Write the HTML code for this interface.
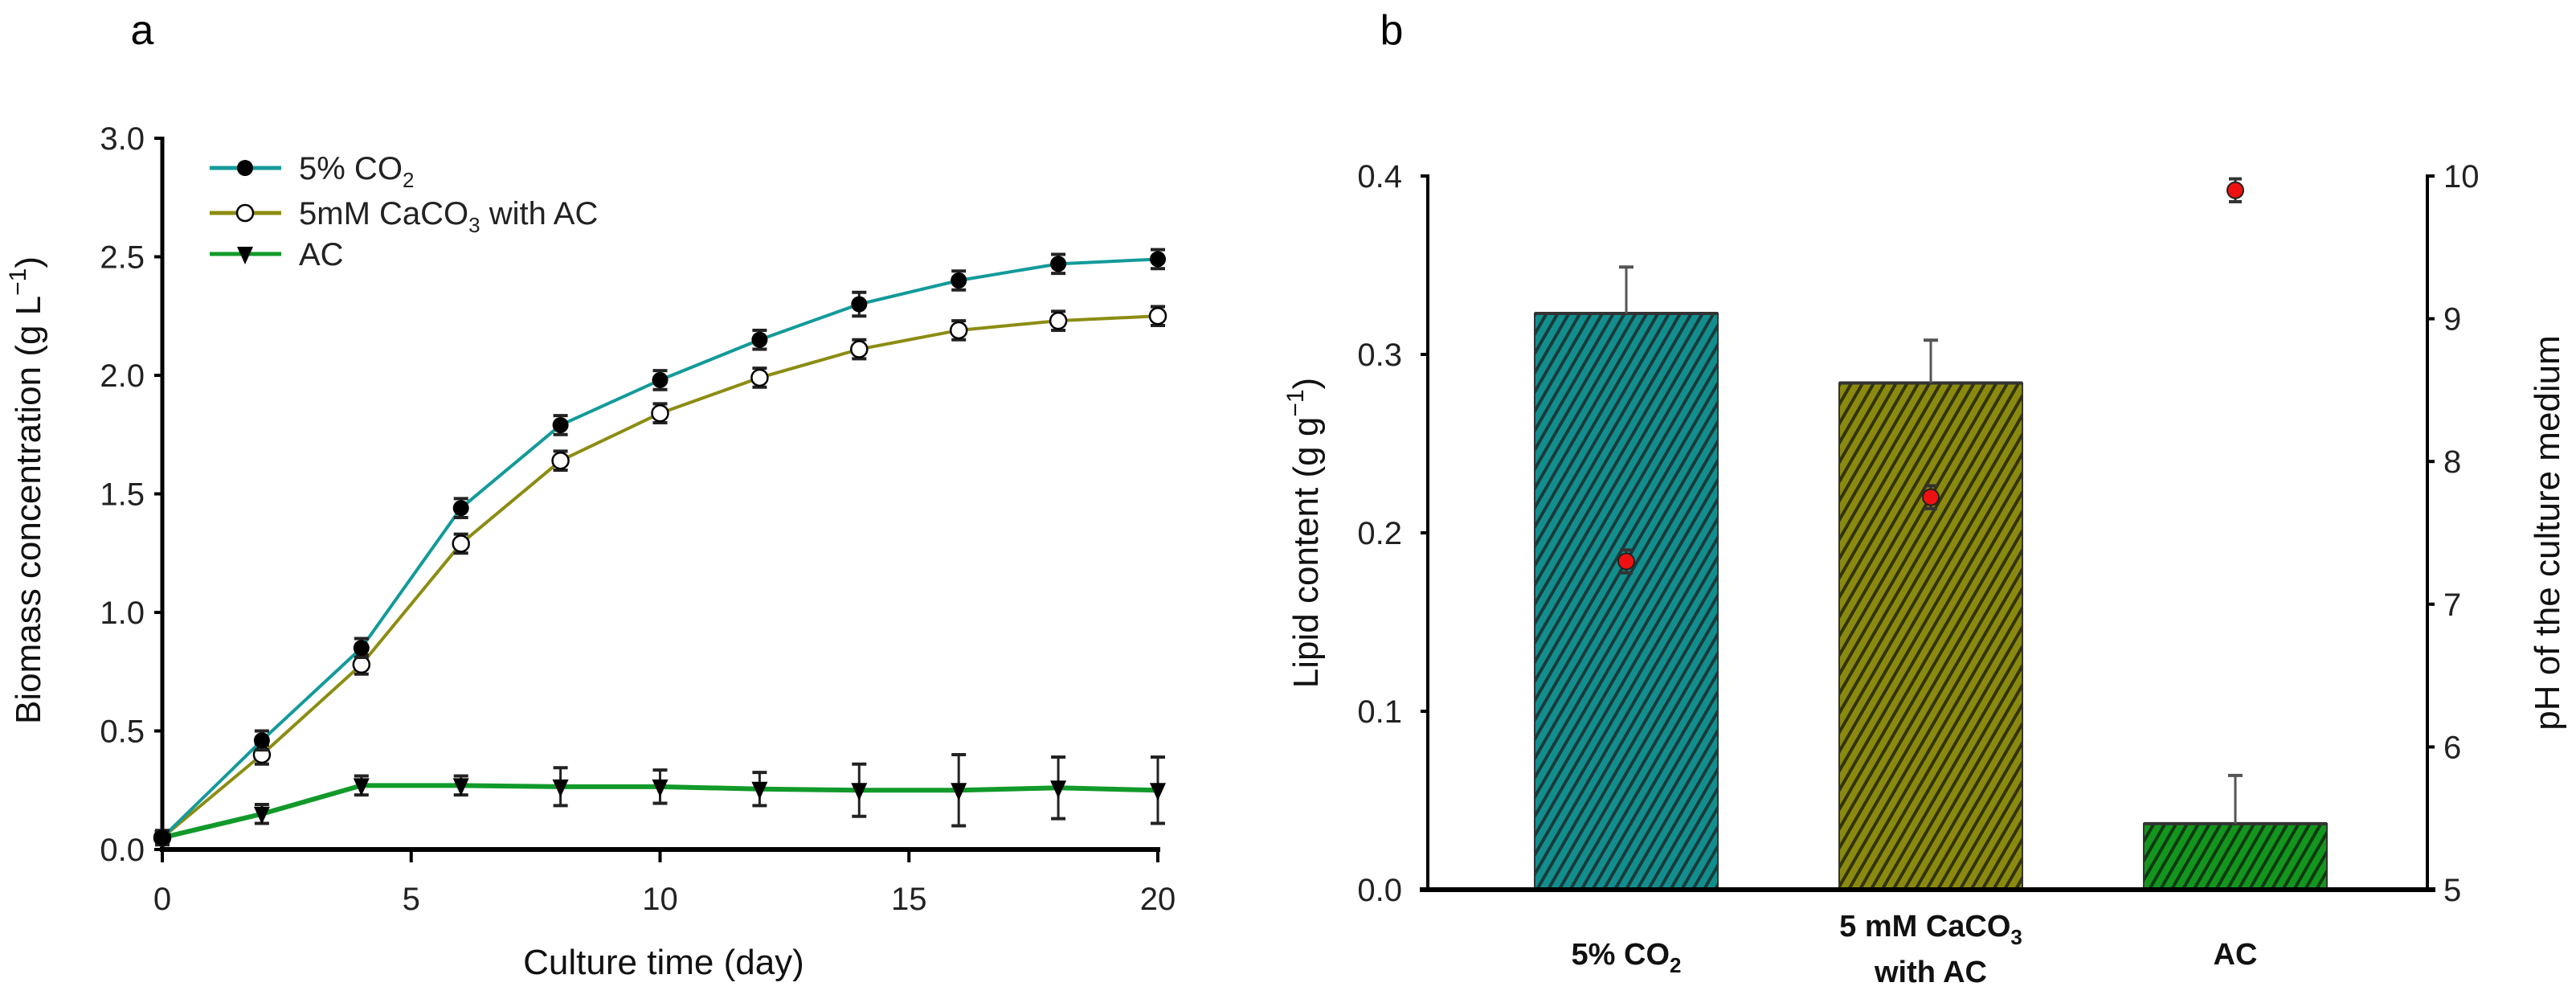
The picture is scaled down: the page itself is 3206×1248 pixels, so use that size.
<!DOCTYPE html>
<html><head><meta charset="utf-8">
<style>
html,body{margin:0;padding:0;background:#fff;}
svg{display:block;font-family:"Liberation Sans",Arial,sans-serif;}
</style></head>
<body>
<svg id="chart" width="3206" height="1248" viewBox="0 0 3206 1248">
<defs>
<pattern id="hatchTeal" patternUnits="userSpaceOnUse" width="12" height="12" patternTransform="rotate(30)">
<rect width="12" height="12" fill="#138e8e"/><rect width="4" height="12" fill="#1a3a3a"/></pattern>
<pattern id="hatchOlive" patternUnits="userSpaceOnUse" width="12" height="12" patternTransform="rotate(30)">
<rect width="12" height="12" fill="#8a8a10"/><rect width="4" height="12" fill="#33330a"/></pattern>
<pattern id="hatchGreen" patternUnits="userSpaceOnUse" width="12" height="12" patternTransform="rotate(30)">
<rect width="12" height="12" fill="#14961e"/><rect width="4" height="12" fill="#0c3a10"/></pattern>
</defs>
<g id="pa"></g>
<g id="pb"></g>
</svg>
<script>
// Panel a data
const days = [0,2,4,6,8,10,12,14,16,18,20];
const co2Vals = [0.05,0.46,0.85,1.44,1.79,1.98,2.15,2.30,2.40,2.47,2.49];
const co2Err = [0.03,0.04,0.04,0.04,0.04,0.04,0.04,0.05,0.04,0.04,0.04];
const caVals = [0.05,0.40,0.78,1.29,1.64,1.84,1.99,2.11,2.19,2.23,2.25];
const caErr = [0.03,0.04,0.04,0.04,0.04,0.04,0.04,0.04,0.04,0.04,0.04];
const acVals = [0.05,0.15,0.27,0.27,0.265,0.265,0.255,0.25,0.25,0.26,0.25];
const acErr = [0.02,0.04,0.04,0.04,0.08,0.07,0.07,0.11,0.15,0.13,0.14];
const xTicksA = [0,5,10,15,20];
const yTicksA = ["0.0","0.5","1.0","1.5","2.0","2.5","3.0"];
// Panel b data
const categories = ["5% CO2","5 mM CaCO3 with AC","AC"];
const lipidVals = [0.323,0.284,0.037];
const lipidErr = [0.026,0.024,0.027];
const phVals = [7.3,7.75,9.9];
const phErr = [0.08,0.08,0.08];
const yTicksB = ["0.0","0.1","0.2","0.3","0.4"];
const yTicksPH = [5,6,7,8,9,10];

const NS="http://www.w3.org/2000/svg";
function mk(parent,tag,attrs,text){const e=document.createElementNS(NS,tag);for(const k in attrs)e.setAttribute(k,attrs[k]);if(text!==undefined)e.textContent=text;parent.appendChild(e);return e;}

// ---------- Panel A ----------
const pa=document.getElementById('pa');
const ax0=202, ax1=1441, ay0=1057, ay1=172;
const xA=v=>ax0+(v/20)*(ax1-ax0);
const yA=v=>ay0-(v/3)*(ay0-ay1);
let t=mk(pa,'text',{x:177,y:55,'font-size':52,'text-anchor':'middle'},'a');

let l=mk(pa,'line',{x1:ax0,y1:ay1-2,x2:ax0,y2:ay0+2,stroke:'#000','stroke-width':5});

l=mk(pa,'line',{x1:ax0-3,y1:ay0,x2:ax1+3,y2:ay0,stroke:'#000','stroke-width':6});

yTicksA.forEach(s=>{const y=yA(parseFloat(s));
 mk(pa,'line',{x1:ax0-10,y1:y,x2:ax0,y2:y,stroke:'#000','stroke-width':4});
 const e=mk(pa,'text',{x:ax0-22,y:y+14,'font-size':40,'text-anchor':'end',fill:'#222'},s);
 });
xTicksA.forEach(v=>{const x=xA(v);
 mk(pa,'line',{x1:x,y1:ay0,x2:x,y2:ay0+16,stroke:'#000','stroke-width':4});
 const e=mk(pa,'text',{x:x,y:1132,'font-size':40,'text-anchor':'middle',fill:'#222'},String(v));
 });
t=mk(pa,'text',{x:826,y:1212,'font-size':44,'text-anchor':'middle',fill:'#111'},'Culture time (day)');

t=mk(pa,'text',{x:0,y:0,'font-size':44,'text-anchor':'middle',fill:'#111',transform:'translate(50,610) rotate(-90)'});

t.innerHTML='Biomass concentration (g L<tspan dy="-18" font-size="30">−1</tspan><tspan dy="18">)</tspan>';

function series(vals,errs,color,marker,name,width){
 const g=mk(pa,'g',{});
 
 const pts=vals.map((v,i)=>[xA(days[i]),yA(v)]);
 mk(g,'polyline',{points:pts.map(p=>p.join(',')).join(' '),fill:'none',stroke:color,'stroke-width':width,'stroke-linejoin':'round'});
 vals.forEach((v,i)=>{const x=xA(days[i]);const y1=yA(v+errs[i]),y2=yA(v-errs[i]);
  mk(g,'line',{x1:x,y1:y1,x2:x,y2:y2,stroke:'#222','stroke-width':3});
  mk(g,'line',{x1:x-9,y1:y1,x2:x+9,y2:y1,stroke:'#222','stroke-width':4});
  mk(g,'line',{x1:x-9,y1:y2,x2:x+9,y2:y2,stroke:'#222','stroke-width':4});
  let m;
  if(marker==='filled') m=mk(g,'circle',{cx:x,cy:yA(v),r:10,fill:'#000'});
  else if(marker==='open') m=mk(g,'circle',{cx:x,cy:yA(v),r:10,fill:'#fff',stroke:'#000','stroke-width':2.5});
  else {const y=yA(v);m=mk(g,'polygon',{points:`${x-10},${y-9} ${x+10},${y-9} ${x},${y+13}`,fill:'#000'});}
  
 });
}
series(acVals,acErr,'#119a2a','tri','series-ac',6);
series(caVals,caErr,'#8c8c12','open','series-caco3',4);
series(co2Vals,co2Err,'#139a9a','filled','series-co2',4);

const legend=mk(pa,'g',{});

[['#139a9a','filled','5% CO','2','',209],['#8c8c12','open','5mM CaCO','3',' with AC',265],['#119a2a','tri','AC','','',316]].forEach(r=>{
 const g=mk(legend,'g',{});
 const y=r[5];
 mk(g,'line',{x1:261,y1:y,x2:350,y2:y,stroke:r[0],'stroke-width':5});
 if(r[1]==='filled')mk(g,'circle',{cx:305,cy:y,r:10,fill:'#000'});
 else if(r[1]==='open')mk(g,'circle',{cx:305,cy:y,r:10,fill:'#fff',stroke:'#000','stroke-width':2.5});
 else mk(g,'polygon',{points:`295,${y-9} 315,${y-9} 305,${y+13}`,fill:'#000'});
 const tx=mk(g,'text',{x:372,y:y+14,'font-size':40,fill:'#222'});
 tx.innerHTML=r[2]+(r[3]?`<tspan font-size="26" dy="10">${r[3]}</tspan><tspan dy="-10">${r[4]}</tspan>`:'');
});

// ---------- Panel B ----------
const pb=document.getElementById('pb');
const bx0=1777, bx1=3021, by0=1107, by1=219;
const yB=v=>by0-(v/0.4)*(by0-by1);
const yPH=v=>by0-((v-5)/5)*(by0-by1);
const barW=228;
const xCat=i=>2024+i*379;
t=mk(pb,'text',{x:1732,y:55,'font-size':52,'text-anchor':'middle'},'b');

const fills=['url(#hatchTeal)','url(#hatchOlive)','url(#hatchGreen)'];
lipidVals.forEach((v,i)=>{const x=xCat(i)-barW/2;const y=yB(v);
 const r=mk(pb,'rect',{x:x,y:y,width:barW,height:by0-y,fill:fills[i],stroke:'#333','stroke-width':2});
 
 mk(pb,'line',{x1:x,y1:y,x2:x+barW,y2:y,stroke:'#333','stroke-width':4});
 const ye=yB(v+lipidErr[i]);
 const e=mk(pb,'line',{x1:xCat(i),y1:y,x2:xCat(i),y2:ye,stroke:'#555','stroke-width':3});
 
 mk(pb,'line',{x1:xCat(i)-9,y1:ye,x2:xCat(i)+9,y2:ye,stroke:'#555','stroke-width':4});
});
l=mk(pb,'line',{x1:bx0,y1:by1-2,x2:bx0,y2:by0,stroke:'#000','stroke-width':4});

l=mk(pb,'line',{x1:bx1,y1:by1-2,x2:bx1,y2:by0,stroke:'#000','stroke-width':4});

l=mk(pb,'line',{x1:bx0-10,y1:by0,x2:bx1+10,y2:by0,stroke:'#000','stroke-width':6});

yTicksB.forEach(s=>{const y=yB(parseFloat(s));
 mk(pb,'line',{x1:bx0-9,y1:y,x2:bx0,y2:y,stroke:'#000','stroke-width':4});
 const e=mk(pb,'text',{x:bx0-32,y:y+14,'font-size':40,'text-anchor':'end',fill:'#222'},s);
 });
yTicksPH.forEach(v=>{const y=yPH(v);
 mk(pb,'line',{x1:bx1,y1:y,x2:bx1+9,y2:y,stroke:'#000','stroke-width':4});
 const e=mk(pb,'text',{x:bx1+20,y:y+14,'font-size':40,'text-anchor':'start',fill:'#222'},String(v));
 });
phVals.forEach((v,i)=>{const x=xCat(i);const y1=yPH(v+phErr[i]),y2=yPH(v-phErr[i]);
 mk(pb,'line',{x1:x,y1:y1,x2:x,y2:y2,stroke:'#333','stroke-width':3});
 mk(pb,'line',{x1:x-8,y1:y1,x2:x+8,y2:y1,stroke:'#333','stroke-width':4});
 mk(pb,'line',{x1:x-8,y1:y2,x2:x+8,y2:y2,stroke:'#333','stroke-width':4});
 const c=mk(pb,'circle',{cx:x,cy:yPH(v),r:10,fill:'#ee1111',stroke:'#222','stroke-width':2});
 
});
t=mk(pb,'text',{x:0,y:0,'font-size':44,'text-anchor':'middle',fill:'#111',transform:'translate(1640,663) rotate(-90)'});

t.innerHTML='Lipid content (g g<tspan dy="-18" font-size="30">−1</tspan><tspan dy="18">)</tspan>';
t=mk(pb,'text',{x:0,y:0,'font-size':44,'text-anchor':'middle',fill:'#111',transform:'translate(3185,663) rotate(-90)'},'pH of the culture medium');

const catG=mk(pb,'g',{'font-size':38,'font-weight':'bold','text-anchor':'middle',fill:'#111'});

t=mk(catG,'text',{x:xCat(0),y:1200});t.innerHTML='5% CO<tspan font-size="26" dy="10">2</tspan>';
t=mk(catG,'text',{x:xCat(1),y:1165});t.innerHTML='5 mM CaCO<tspan font-size="26" dy="10">3</tspan>';
mk(catG,'text',{x:xCat(1),y:1222},'with AC');
mk(catG,'text',{x:xCat(2),y:1200},'AC');
</script>
</body></html>
